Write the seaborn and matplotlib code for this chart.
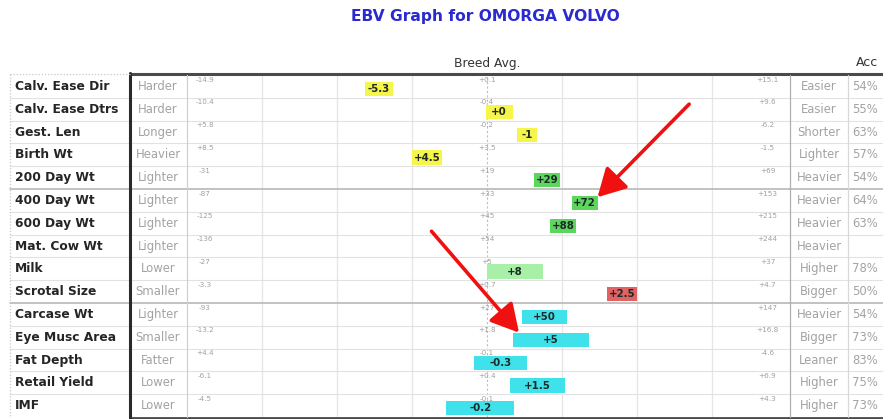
import numpy as np
import pandas as pd
import matplotlib
matplotlib.use("Agg")
import matplotlib.pyplot as plt
import matplotlib.transforms as mtransforms
from matplotlib.lines import Line2D
import seaborn as sns

# ---- EBV table data -------------------------------------------------------
traits = ["Calv. Ease Dir", "Calv. Ease Dtrs", "Gest. Len", "Birth Wt", "200 Day Wt",
          "400 Day Wt", "600 Day Wt", "Mat. Cow Wt", "Milk", "Scrotal Size",
          "Carcase Wt", "Eye Musc Area", "Fat Depth", "Retail Yield", "IMF"]
low_words = ["Harder", "Harder", "Longer", "Heavier", "Lighter", "Lighter", "Lighter",
             "Lighter", "Lower", "Smaller", "Lighter", "Smaller", "Fatter", "Lower", "Lower"]
high_words = ["Easier", "Easier", "Shorter", "Lighter", "Heavier", "Heavier", "Heavier",
              "Heavier", "Higher", "Bigger", "Heavier", "Bigger", "Leaner", "Higher", "Higher"]
ebv = [-5.3, 0, -1, 4.5, 29, 72, 88, np.nan, 8, 2.5, 50, 5, -0.3, 1.5, -0.2]
possible_change = [0.7, 0.45, 0.2, 0.25, 2.2, 5.2, 7.4, np.nan, 3.0, 0.2, 9, 1.9, 0.4, 0.6, 0.5]
breed_avg = [0.1, -0.4, -0.2, 3.5, 19, 33, 45, 54, 5, 0.7, 27, 1.8, -0.1, 0.4, -0.1]
half_range = [15, 10, 6, 5, 50, 120, 170, 190, 32, 4, 120, 15, 4.5, 6.5, 4.4]
direction = [1, 1, -1, -1, 1, 1, 1, 1, 1, 1, 1, 1, -1, 1, 1]
accuracy = [54, 55, 63, 57, 54, 64, 63, None, 78, 50, 54, 73, 83, 75, 73]
trait_group = ["Calving", "Calving", "Calving", "Calving", "Growth", "Growth", "Growth",
               "Growth", "Milk", "Fertility", "Carcase", "Carcase", "Carcase", "Carcase",
               "Carcase"]

group_colors = {"Calving": "#f6f54a", "Growth": "#5cd65c", "Milk": "#a8f0a8",
                "Fertility": "#e06262", "Carcase": "#3fe2ea"}

df = pd.DataFrame({"trait": traits, "ebv": ebv, "change": possible_change,
                   "avg": breed_avg, "half": half_range, "dir": direction,
                   "group": trait_group})
df["row"] = np.arange(len(df))
# position on the normalised breed scale (-1 .. 1, breed average at 0)
df["pos"] = df["dir"] * (df["ebv"] - df["avg"]) / df["half"]
df["hw"] = df["change"] / df["half"]

sns.set_theme(style="white")
plt.rcParams["font.family"] = ["DejaVu Sans"]

W, H = 883, 419
fig = plt.figure(figsize=(W / 100, H / 100), dpi=100)
ax = fig.add_axes([187 / W, 2 / H, 603 / W, 342 / H])
ax.set_xlim(-1.0, 1.01)
ax.set_ylim(len(df) - 0.5, -0.5)
ax.set_xticks([])
ax.set_yticks([])
sns.despine(ax=ax, left=True, bottom=True)

T = mtransforms.blended_transform_factory(fig.transFigure, ax.transData)


def fx(px):
    return px / W


def fy(py):
    return 1 - py / H


# vertical guide lines inside the graph
for g in [-0.75, -0.5, -0.25, 0.25, 0.5, 0.75]:
    ax.axvline(g, color="#e6e6e6", lw=0.9, zorder=0)
ax.axvline(0, color="#bdbdbd", lw=0.8, ls=(0, (2, 2)), zorder=0)

# row separators across the whole table
for k in range(len(df) - 1):
    y = k + 0.5
    strong = k in (4, 9)
    ax.plot([fx(10), fx(883)], [y, y], transform=T, clip_on=False,
            color="#b8b8b8" if strong else "#e2e2e2", lw=1.2 if strong else 0.8, zorder=1)

# EBV boxes
for _, r in df.dropna(subset=["ebv"]).iterrows():
    yc = r["row"] + 0.12
    ax.barh(yc, 2 * r["hw"], left=r["pos"] - r["hw"], height=0.62,
            color=group_colors[r["group"]], edgecolor="none", zorder=3)
    ax.text(r["pos"], yc, f"{r['ebv']:+g}", ha="center", va="center",
            fontsize=7.4, fontweight="bold", color="#1e2a2a", zorder=4)


def fmt(v, half):
    return f"{v:+.0f}" if half >= 20 else f"{v:+.1f}"


# scale numbers: low end, breed average, high end
for _, r in df.iterrows():
    y = r["row"] - 0.3
    lo = r["avg"] - r["dir"] * r["half"]
    hi = r["avg"] + r["dir"] * r["half"]
    kw = dict(fontsize=5.2, color="#a0a0a0", ha="center", va="center", zorder=2)
    ax.text(-0.94, y, fmt(lo, r["half"]), **kw)
    ax.text(0.0, y, fmt(r["avg"], r["half"]), **kw)
    ax.text(0.935, y, fmt(hi, r["half"]), **kw)

# side columns
for i, name in enumerate(traits):
    ax.text(fx(15), i, name, transform=T, ha="left", va="center", fontsize=8.8,
            fontweight="bold", color="#252525")
    ax.text(fx(158), i, low_words[i], transform=T, ha="center", va="center",
            fontsize=8.4, color="#a3a3a3")
    ax.text(fx(819), i, high_words[i], transform=T, ha="center", va="center",
            fontsize=8.4, color="#a3a3a3")
    if accuracy[i] is not None:
        ax.text(fx(852), i, f"{accuracy[i]}%", transform=T, ha="left", va="center",
                fontsize=8.4, color="#a3a3a3")

# table frame
def fline(x0, y0, x1, y1, **kw):
    fig.add_artist(Line2D([fx(x0), fx(x1)], [fy(y0), fy(y1)], **kw))


fline(130, 74, 883, 74, color="#4a4a4a", lw=2.2)
fline(130, 417.5, 883, 417.5, color="#4a4a4a", lw=2.0)
fline(130, 73, 130, 418, color="#2a2a2a", lw=2.2)
fline(187, 75, 187, 417, color="#d0d0d0", lw=0.9)
fline(790, 75, 790, 417, color="#b0b0b0", lw=0.9)
fline(848, 75, 848, 417, color="#d8d8d8", lw=0.9)
fline(10, 74, 130, 74, color="#c8c8c8", lw=0.9, ls=(0, (1, 1.5)))
fline(10, 74, 10, 417, color="#c8c8c8", lw=0.9, ls=(0, (1, 1.5)))

# headings
fig.text(fx(485), fy(17), "EBV Graph for OMORGA VOLVO", ha="center", va="center",
         fontsize=11.2, fontweight="bold", color="#2a2ad0")
fig.text(fx(487), fy(63), "Breed Avg.", ha="center", va="center", fontsize=8.8,
         color="#333333")
fig.text(fx(856), fy(63), "Acc", ha="left", va="center", fontsize=9, color="#333333")

# pointers to the 400 Day Wt and Eye Musc Area boxes
r400 = df.loc[5]
rema = df.loc[11]
arrow = dict(arrowstyle="-|>,head_length=1.0,head_width=0.55", color="#f01010",
             lw=2.6, mutation_scale=17, shrinkA=0, shrinkB=0)
ax.annotate("", xy=(r400["pos"] + r400["hw"], r400["row"] - 0.14),
            xytext=(66, 67), textcoords="offset points", arrowprops=arrow, zorder=6)
ax.annotate("", xy=(rema["pos"] - rema["hw"] + 0.02, rema["row"] - 0.2),
            xytext=(-63, 73), textcoords="offset points", arrowprops=arrow, zorder=6)

fig.savefig("out.png", dpi=100)
